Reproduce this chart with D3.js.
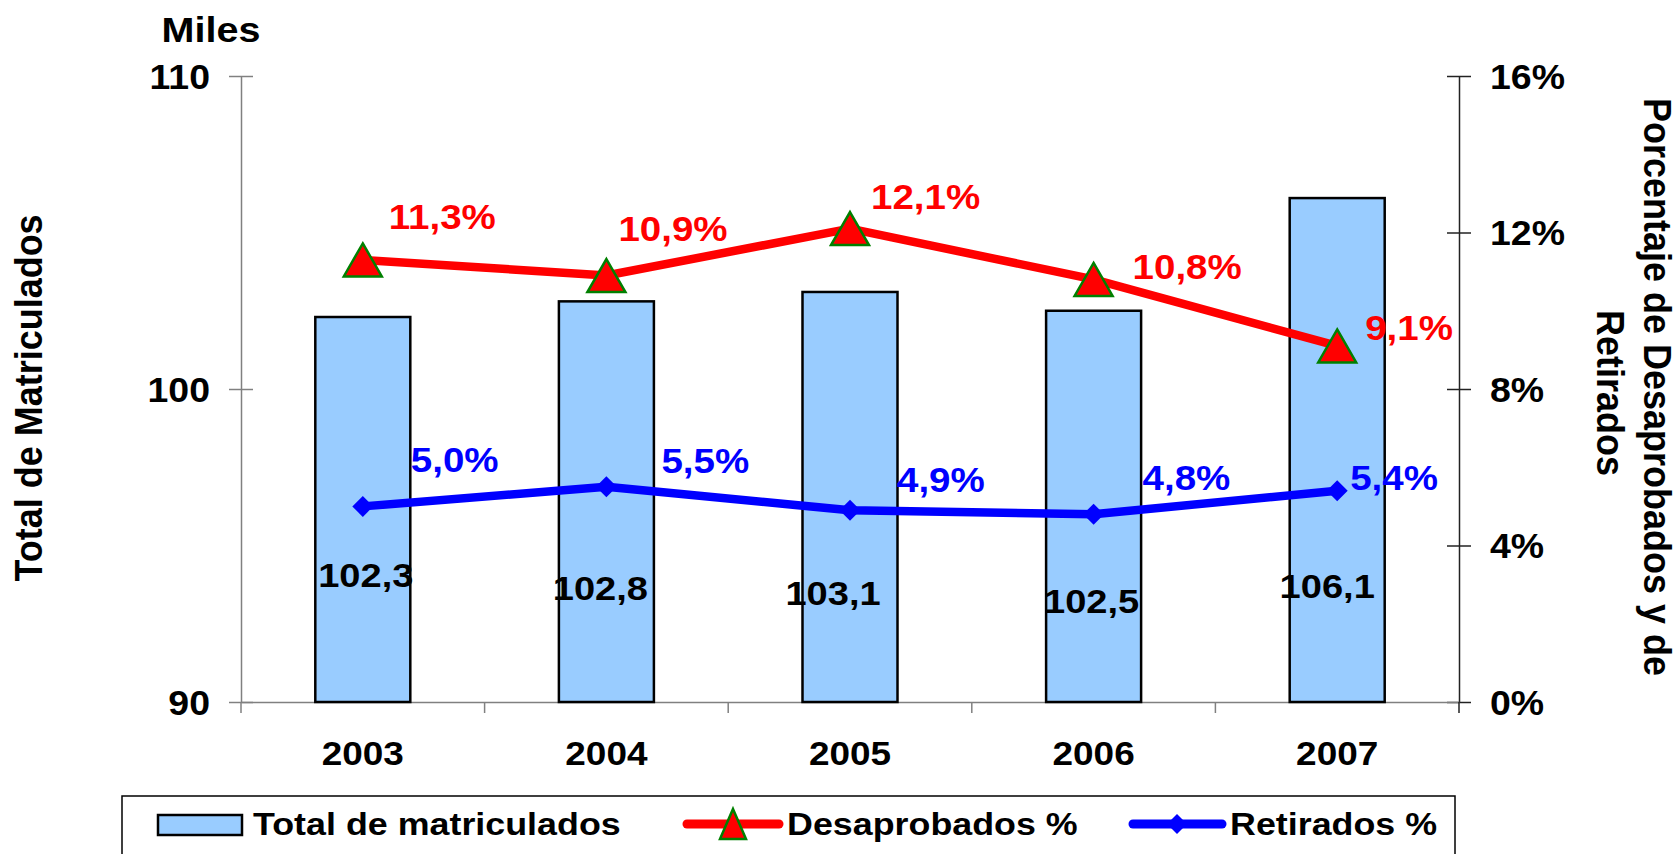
<!DOCTYPE html>
<html>
<head>
<meta charset="utf-8">
<script src="https://cdn.jsdelivr.net/npm/d3@7"></script>
<style>
  html, body { margin: 0; padding: 0; background: #ffffff; }
  svg { display: block; }
  text { font-family: "Liberation Sans", Arial, sans-serif; font-weight: bold; }
</style>
</head>
<body>
<svg id="chart" width="1679" height="854"></svg>
<script>
// ---- data ----
const years = ["2003", "2004", "2005", "2006", "2007"];
const matriculados = [102.3, 102.8, 103.1, 102.5, 106.1];   // miles
const desaprobados = [11.3, 10.9, 12.1, 10.8, 9.1];         // %
const retirados = [5.0, 5.5, 4.9, 4.8, 5.4];                // %
const leftTicks = [90, 100, 110];
const rightTicks = [0, 4, 8, 12, 16];
const seriesNames = ["Total de matriculados", "Desaprobados %", "Retirados %"];

// ---- layout (manual label nudges, as placed in the original) ----
const redLabelNudge = [[26, -31], [12, -35], [21, -20], [39, 0], [28, -6]];
const blueLabelNudge = [[48, -34], [55, -14], [47, -18], [49, -24], [13, -1]];
const barLabelNudge = [[3, -115], [-6, -102], [-17, -97], [-2, -89], [-10, -104]];

const SX = 1.1; // horizontal stretch of the original rendering
const svg = d3.select("#chart");
const fmt = v => d3.format(".1f")(v).replace(".", ",");

const plotL = 241, plotR = 1459, plotT = 76, plotB = 702;

const x = d3.scaleBand().domain(years).range([plotL, plotR]).paddingInner(0.61).paddingOuter(0.305);
const yL = d3.scaleLinear().domain([90, 110]).range([plotB, plotT]);
const yR = d3.scaleLinear().domain([0, 16]).range([plotB, plotT]);
const cx = d => x(d) + x.bandwidth() / 2;

function label(g, px, py, str, size, color, anchor, sx) {
  return g.append("text")
    .attr("transform", `translate(${px},${py}) scale(${sx || SX},1)`)
    .attr("text-anchor", anchor || "start")
    .attr("font-size", size)
    .attr("fill", color || "#000")
    .text(str);
}

// ---- axes ----
const axL = d3.axisLeft(yL).tickValues(leftTicks).tickSizeInner(12).tickSizeOuter(0).tickFormat(d3.format("d"));
const gL = svg.append("g").attr("transform", `translate(${plotL},0)`).call(axL);
gL.select(".domain").attr("stroke", "#808080").attr("stroke-width", 1.5);
gL.selectAll(".tick line").attr("x1", 12).attr("x2", -12).attr("stroke", "#808080").attr("stroke-width", 1.5);
gL.selectAll(".tick text").attr("x", null).attr("dy", "0.35em")
  .attr("transform", `translate(-31,0) scale(1.07,1)`)
  .attr("font-size", 35).attr("fill", "#000")
  .style("font-family", "'Liberation Sans', Arial, sans-serif").style("font-weight", "bold");

const axR = d3.axisRight(yR).tickValues(rightTicks).tickSizeInner(12).tickSizeOuter(0).tickFormat(d => d + "%");
const gR = svg.append("g").attr("transform", `translate(${plotR},0)`).call(axR);
gR.select(".domain").attr("stroke", "#222").attr("stroke-width", 1.5);
gR.selectAll(".tick line").attr("x1", -12).attr("x2", 12).attr("stroke", "#222").attr("stroke-width", 1.5);
gR.selectAll(".tick text").attr("x", null).attr("dy", "0.35em")
  .attr("transform", `translate(31,0) scale(1.07,1)`)
  .attr("font-size", 35).attr("fill", "#000")
  .style("font-family", "'Liberation Sans', Arial, sans-serif").style("font-weight", "bold");

const axB = d3.axisBottom(x).tickSizeInner(0).tickSizeOuter(0).tickPadding(40);
const gB = svg.append("g").attr("transform", `translate(0,${plotB})`).call(axB);
gB.select(".domain").attr("stroke", "#808080").attr("stroke-width", 1.5);
gB.selectAll(".tick text").attr("font-size", 33).attr("fill", "#000")
  .attr("transform", "scale(1.12,1)")
  .style("font-family", "'Liberation Sans', Arial, sans-serif").style("font-weight", "bold");

// category boundary ticks
const bounds = d3.range(years.length + 1).map(i => x.range()[0] + i * x.step());
svg.append("g").selectAll("line").data(bounds).join("line")
  .attr("x1", d => d).attr("x2", d => d)
  .attr("y1", plotB).attr("y2", plotB + 11)
  .attr("stroke", (d, i) => i === years.length ? "#222" : "#808080").attr("stroke-width", 1.5);

// ---- bars ----
svg.append("g").selectAll("rect").data(years).join("rect")
  .attr("x", d => x(d))
  .attr("y", (d, i) => yL(matriculados[i]))
  .attr("width", x.bandwidth())
  .attr("height", (d, i) => yL(90) - yL(matriculados[i]))
  .attr("fill", "#99CCFF")
  .attr("stroke", "#000")
  .attr("stroke-width", 2.5);

// ---- lines ----
const line = d3.line().x(d => d[0]).y(d => d[1]);
const redPts = years.map((d, i) => [cx(d), yR(desaprobados[i])]);
const bluePts = years.map((d, i) => [cx(d), yR(retirados[i])]);

svg.append("path").attr("d", line(redPts)).attr("fill", "none")
  .attr("stroke", "#FF0000").attr("stroke-width", 8.5).attr("stroke-linejoin", "round");
svg.append("path").attr("d", line(bluePts)).attr("fill", "none")
  .attr("stroke", "#0000FF").attr("stroke-width", 8.5).attr("stroke-linejoin", "round");

const tri = (px, py, w, h) => `M${px},${py - h / 2}L${px + w / 2},${py + h / 2}L${px - w / 2},${py + h / 2}Z`;
const dia = (px, py, r) => `M${px},${py - r}L${px + r},${py}L${px},${py + r}L${px - r},${py}Z`;

svg.append("g").selectAll("path").data(redPts).join("path")
  .attr("d", d => tri(d[0], d[1], 38, 33))
  .attr("fill", "#FF0000").attr("stroke", "#008000").attr("stroke-width", 2.5).attr("stroke-linejoin", "miter");
svg.append("g").selectAll("path").data(bluePts).join("path")
  .attr("d", d => dia(d[0], d[1], 10.5))
  .attr("fill", "#0000FF");

// ---- data labels ----
const gLab = svg.append("g");
redPts.forEach((p, i) => label(gLab, p[0] + redLabelNudge[i][0], p[1] + redLabelNudge[i][1], fmt(desaprobados[i]) + "%", 35, "#FF0000", "start"));
bluePts.forEach((p, i) => label(gLab, p[0] + blueLabelNudge[i][0], p[1] + blueLabelNudge[i][1], fmt(retirados[i]) + "%", 35, "#0000FF", "start"));
years.forEach((d, i) => label(gLab, cx(d) + barLabelNudge[i][0], yL(90) + barLabelNudge[i][1], fmt(matriculados[i]), 34, "#000", "middle", 1.12));

// ---- titles ----
label(svg, 211, 42, "Miles", 35, "#000", "middle", 1.13);
svg.append("text")
  .attr("transform", `translate(42,398) scale(1.1,1) rotate(-90)`)
  .attr("text-anchor", "middle").attr("font-size", 36).attr("fill", "#000")
  .text("Total de Matriculados");
svg.append("text")
  .attr("transform", `translate(1644,387) scale(1.06,1) rotate(90)`)
  .attr("text-anchor", "middle").attr("font-size", 36).attr("fill", "#000")
  .text("Porcentaje de Desaprobados y de");
svg.append("text")
  .attr("transform", `translate(1597,393) scale(1.06,1) rotate(90)`)
  .attr("text-anchor", "middle").attr("font-size", 36).attr("fill", "#000")
  .text("Retirados");

// ---- legend ----
const lg = svg.append("g");
lg.append("rect").attr("x", 122).attr("y", 796).attr("width", 1333).attr("height", 120)
  .attr("fill", "#fff").attr("stroke", "#000").attr("stroke-width", 1.5);
lg.append("rect").attr("x", 158).attr("y", 815).attr("width", 84).attr("height", 20)
  .attr("fill", "#99CCFF").attr("stroke", "#000").attr("stroke-width", 2.5);
label(lg, 253, 835, seriesNames[0], 32, "#000", "start", 1.12);
lg.append("line").attr("x1", 687).attr("x2", 779).attr("y1", 824).attr("y2", 824)
  .attr("stroke", "#FF0000").attr("stroke-width", 9).attr("stroke-linecap", "round");
lg.append("path").attr("d", tri(733, 824, 26, 30))
  .attr("fill", "#FF0000").attr("stroke", "#008000").attr("stroke-width", 2.5);
label(lg, 787, 835, seriesNames[1], 32, "#000", "start", 1.12);
lg.append("line").attr("x1", 1133).attr("x2", 1222).attr("y1", 824).attr("y2", 824)
  .attr("stroke", "#0000FF").attr("stroke-width", 9).attr("stroke-linecap", "round");
lg.append("path").attr("d", dia(1177, 824, 10)).attr("fill", "#0000FF");
label(lg, 1230, 835, seriesNames[2], 32, "#000", "start", 1.12);
</script>
</body>
</html>
